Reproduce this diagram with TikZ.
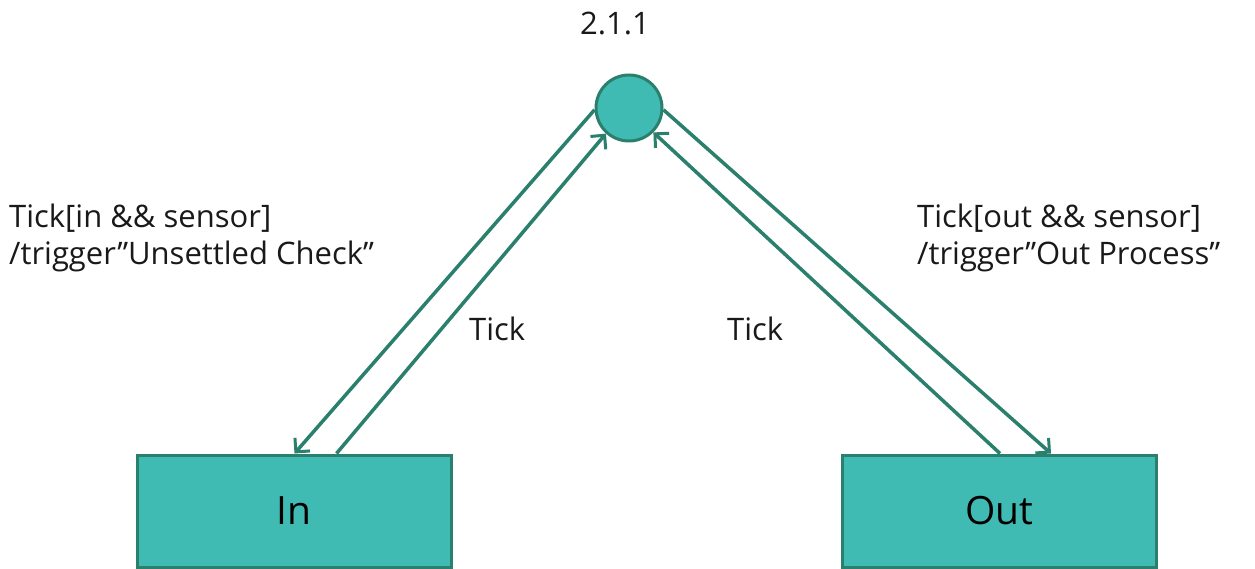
\documentclass[tikz,border=0pt]{standalone}
\usepackage{fontspec}
\setmainfont{Open Sans}
\usetikzlibrary{arrows.meta,calc}
\definecolor{tealfill}{RGB}{64,187,179}
\definecolor{tealline}{RGB}{42,128,108}
\tikzset{
  statebox/.style={draw=tealline, line width=3pt, fill=tealfill, minimum width=314pt, minimum height=112pt, inner sep=0pt, font=\fontsize{39}{44}\selectfont},
  junction/.style={circle, draw=tealline, line width=3pt, fill=tealfill, minimum size=66pt, inner sep=0pt},
  conn/.style={draw=tealline, line width=3.5pt, -{Straight Barb[length=10pt,width=20pt,line width=3pt]}},
  lbl/.style={font=\fontsize{31}{37}\selectfont, align=left, inner sep=0pt, text=black!90},
}
\begin{document}
\begin{tikzpicture}[x=1pt,y=-1pt]
\useasboundingbox (0,0) rectangle (1255,569);
\node[junction] (c) at (629,108) {};
\node[statebox] (in) at (294,511) {In};
\node[statebox] (out) at (999.5,511) {Out};
\node[lbl, anchor=base] (num) at (615,35) {2.1.1};
\node[lbl, anchor=base west] (ltxt) at (9,265) {Tick[in \&\& sensor]\\/trigger”Unsettled Check”};
\node[lbl, anchor=base west] (rtxt) at (917,265) {Tick[out \&\& sensor]\\/trigger”Out Process”};
\node[lbl, anchor=base west] (t1) at (469,340) {Tick};
\node[lbl, anchor=base west] (t2) at (727,340) {Tick};
\draw[conn] (c.183) -- ($(in.north west)+(159,0)$);
\draw[conn] ($(in.north west)+(201,0)$) -- (c.228);
\draw[conn] (c.-3) -- ($(out.north west)+(210,0)$);
\draw[conn] ($(out.north west)+(159,0)$) -- (c.-45);
\end{tikzpicture}
\end{document}
